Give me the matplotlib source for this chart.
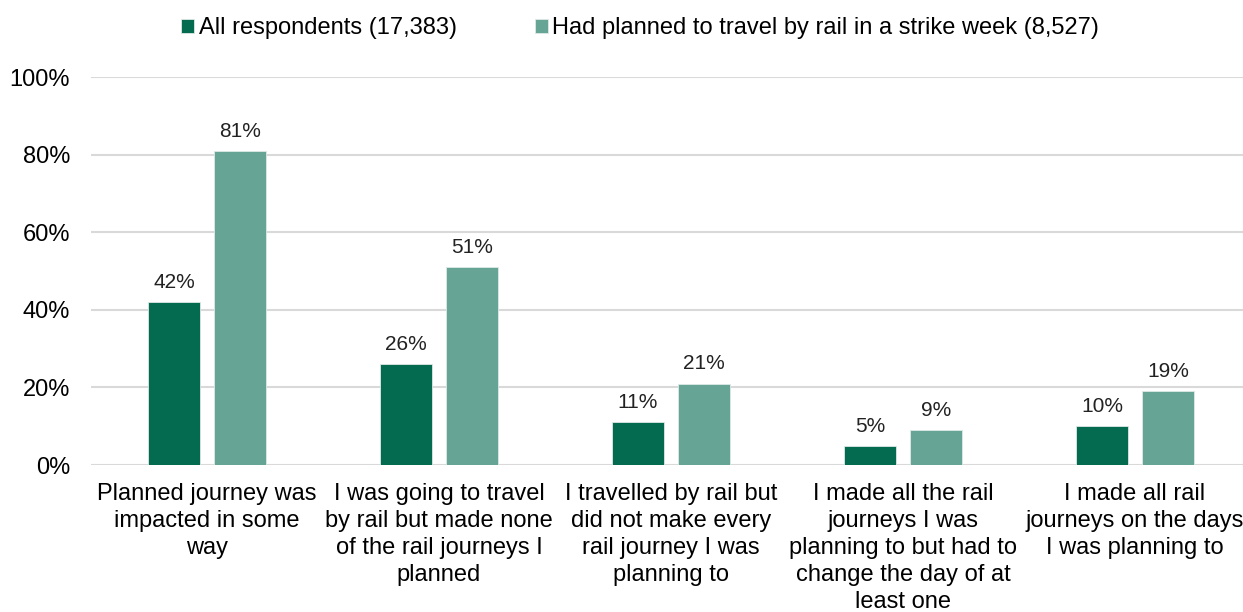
import numpy as np
import matplotlib.pyplot as plt
from matplotlib.ticker import FuncFormatter

plt.rcParams['font.family'] = ['Liberation Sans', 'DejaVu Sans']

categories = [
    "Planned journey was\nimpacted in some\nway",
    "I was going to travel\nby rail but made none\nof the rail journeys I\nplanned",
    "I travelled by rail but\ndid not make every\nrail journey I was\nplanning to",
    "I made all the rail\njourneys I was\nplanning to but had to\nchange the day of at\nleast one",
    "I made all rail\njourneys on the days\nI was planning to",
]
all_respondents = [42, 26, 11, 5, 10]
planned_rail = [81, 51, 21, 9, 19]
series_names = ["All respondents (17,383)",
                "Had planned to travel by rail in a strike week (8,527)"]

dark_green = "#046a50"
light_green = "#66a596"

fig = plt.figure(figsize=(12.43, 6.12), dpi=100)
ax = fig.add_axes([91 / 1243, 147 / 612, 1160 / 1243, 388 / 612])

x = np.arange(len(categories))
width = 0.224
offset = 0.142

b1 = ax.bar(x - offset, all_respondents, width, color=dark_green,
            edgecolor="#dfe9e6", linewidth=0.6, label=series_names[0], zorder=3)
b2 = ax.bar(x + offset, planned_rail, width, color=light_green,
            edgecolor="#dfe9e6", linewidth=0.6, label=series_names[1], zorder=3)

for bars, vals in ((b1, all_respondents), (b2, planned_rail)):
    for bar, v in zip(bars, vals):
        ax.text(bar.get_x() + bar.get_width() / 2, v + 2.6, f"{v}%",
                ha="center", va="bottom", fontsize=15, color="#222222")

ax.set_xlim(-0.5, len(categories) - 0.5)
ax.set_ylim(0, 100)
ax.set_yticks(range(0, 101, 20))
ax.yaxis.set_major_formatter(FuncFormatter(lambda v, p: f"{v:.0f}%"))
ax.set_xticks(x)
ax.set_xticklabels(categories, fontsize=17, linespacing=1.3)
ax.tick_params(axis="x", length=0, pad=13)
ax.tick_params(axis="y", length=0, pad=15, labelsize=17)
ax.grid(axis="y", color="#d9d9d9", linewidth=1.5, zorder=0)
for s in ax.spines.values():
    s.set_visible(False)

fig.legend(handles=[b1, b2], loc="center", bbox_to_anchor=(640 / 1243, 1 - 28 / 612),
           ncol=2, frameon=False, fontsize=17, handlelength=0.55, handleheight=0.55,
           handletextpad=0.2, columnspacing=3.3)

fig.savefig("out.png", dpi=100)
